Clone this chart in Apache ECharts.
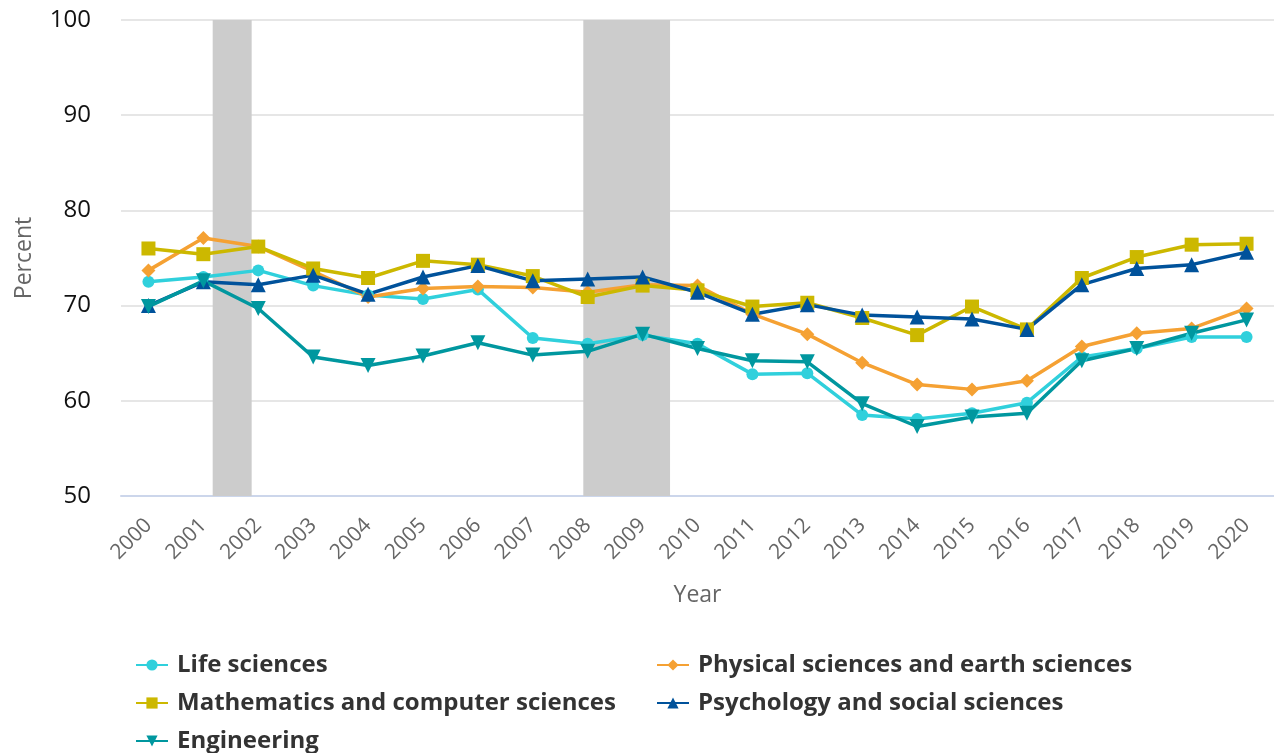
<!DOCTYPE html>
<html>
<head>
<meta charset="utf-8">
<title>Percent by field, 2000-2020</title>
<script src="https://cdn.jsdelivr.net/npm/echarts@6/dist/echarts.min.js"></script>
<style>
  html, body { margin: 0; padding: 0; background: #fff; }
  #chart { width: 1274px; height: 753px; }
</style>
</head>
<body>
<div id="chart"></div>
<script>
const years = ['2000', '2001', '2002', '2003', '2004', '2005', '2006', '2007', '2008', '2009', '2010',
  '2011', '2012', '2013', '2014', '2015', '2016', '2017', '2018', '2019', '2020'];

const lifeSciences = [72.5, 73.0, 73.7, 72.1, 71.1, 70.7, 71.7, 66.6, 66.0, 66.9, 66.0,
  62.8, 62.9, 58.5, 58.1, 58.7, 59.8, 64.6, 65.5, 66.7, 66.7];
const physicalSciences = [73.7, 77.1, 76.2, 73.6, 70.9, 71.8, 72.0, 71.9, 71.4, 72.2, 72.1,
  69.1, 67.0, 64.0, 61.7, 61.2, 62.1, 65.7, 67.1, 67.6, 69.7];
const mathComputer = [76.0, 75.4, 76.2, 73.9, 72.9, 74.7, 74.3, 73.1, 70.9, 72.1, 71.6,
  69.9, 70.3, 68.7, 66.9, 69.9, 67.5, 72.9, 75.1, 76.4, 76.5];
const psychSocial = [70.0, 72.5, 72.2, 73.2, 71.2, 73.0, 74.2, 72.6, 72.8, 73.0, 71.4,
  69.1, 70.1, 69.0, 68.8, 68.6, 67.5, 72.2, 73.9, 74.3, 75.6];
const engineering = [69.9, 72.6, 69.7, 64.6, 63.7, 64.7, 66.1, 64.8, 65.2, 67.0, 65.5,
  64.2, 64.1, 59.7, 57.3, 58.3, 58.7, 64.2, 65.5, 67.1, 68.5];

// recession periods, in fractional years
const recessions = [[2001.17, 2001.88], [2007.92, 2009.5]];

// legend layout: [series name, left, top]
const legendSlots = [
  ['Life sciences', 130, 648],
  ['Physical sciences and earth sciences', 651, 648],
  ['Mathematics and computer sciences', 130, 686],
  ['Psychology and social sciences', 651, 686],
  ['Engineering', 130, 724]
];

const fontFamily = '"Open Sans", sans-serif';

function lineSeries(name, data, color, symbol, size) {
  return {
    name: name,
    type: 'line',
    data: data,
    color: color,
    symbol: symbol,
    symbolSize: size,
    z: 3,
    lineStyle: { width: 3.5, color: color },
    itemStyle: { color: color },
    emphasis: { disabled: true }
  };
}

const chart = echarts.init(document.getElementById('chart'));
chart.setOption({
  animation: false,
  textStyle: { fontFamily: fontFamily },
  grid: { left: 121, right: 0, top: 20, bottom: 257 },
  xAxis: [{
    type: 'category',
    data: years,
    boundaryGap: true,
    name: 'Year',
    nameLocation: 'middle',
    nameGap: 88,
    nameTextStyle: { color: '#666', fontSize: 23, fontFamily: fontFamily },
    axisLine: { lineStyle: { color: '#ccd6eb', width: 2 } },
    axisTick: { alignWithLabel: true, length: 19, lineStyle: { color: '#ccd6eb', width: 2 } },
    axisLabel: { rotate: 45, color: '#666', fontSize: 21, margin: 26, fontFamily: fontFamily },
    splitLine: { show: false }
  }, {
    type: 'value',
    min: 1999.5,
    max: 2020.5,
    show: false,
    splitLine: { show: false }
  }],
  yAxis: {
    type: 'value',
    min: 50,
    max: 100,
    interval: 10,
    name: 'Percent',
    nameLocation: 'middle',
    nameGap: 85,
    nameTextStyle: { color: '#666', fontSize: 23, fontFamily: fontFamily },
    axisLine: { show: false },
    axisTick: { show: false },
    axisLabel: { color: '#111', fontSize: 24, margin: 30, fontFamily: fontFamily },
    splitLine: { lineStyle: { color: '#e6e6e6', width: 2 } }
  },
  legend: legendSlots.map(s => ({
    left: s[1],
    top: s[2],
    itemWidth: 32,
    itemHeight: 14,
    data: [s[0]],
    textStyle: { color: '#333', fontSize: 24, fontWeight: 'bold', fontFamily: fontFamily, padding: [0, 0, 0, 4] }
  })),
  series: [
    {
      name: 'recessions',
      type: 'line',
      xAxisIndex: 1,
      data: [],
      z: -1,
      silent: true,
      markArea: {
        silent: true,
        itemStyle: { color: '#cccccc', opacity: 1 },
        data: recessions.map(r => [{ xAxis: r[0] }, { xAxis: r[1] }])
      }
    },
    lineSeries('Life sciences', lifeSciences, '#30d0dc', 'circle', 12),
    lineSeries('Physical sciences and earth sciences', physicalSciences, '#f5a133', 'diamond', 14),
    lineSeries('Mathematics and computer sciences', mathComputer, '#ccb800', 'rect', 14),
    lineSeries('Psychology and social sciences', psychSocial, '#00529b', 'triangle', 15),
    {
      ...lineSeries('Engineering', engineering, '#00979f', 'triangle', 15),
      symbolRotate: 180
    }
  ]
});
</script>
</body>
</html>
